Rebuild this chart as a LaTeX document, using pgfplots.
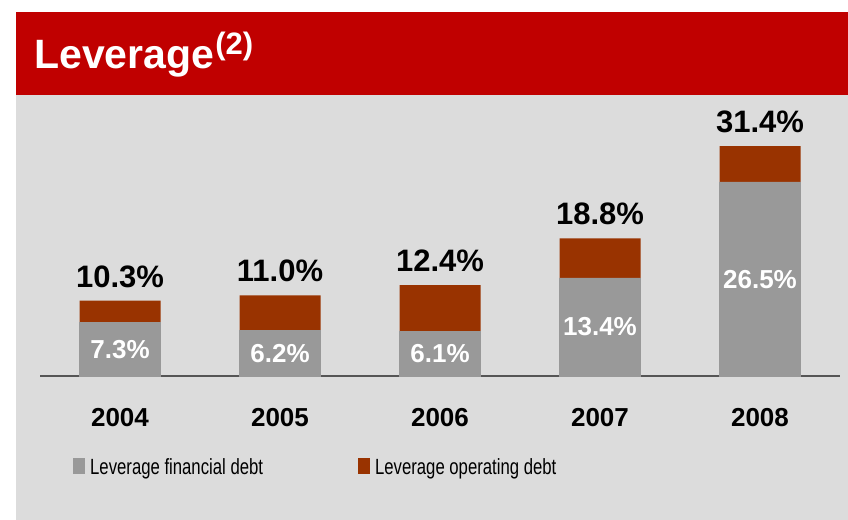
\documentclass[border=0pt]{standalone}
\usepackage{fontspec}
\setmainfont{Liberation Sans}
\usepackage{pgfplots}
\pgfplotsset{compat=1.18}
\usepackage{pgfplotstable}

\definecolor{bannerred}{RGB}{192,0,0}
\definecolor{panelgray}{RGB}{220,220,220}
\definecolor{fingray}{RGB}{153,153,153}
\definecolor{opred}{RGB}{153,51,0}
\definecolor{axisgray}{RGB}{85,85,85}

% leverage: total and financial debt part (operating = total - fin)
\pgfplotstableread{
x total fin
0 10.3 7.3
1 11.0 6.2
2 12.4 6.1
3 18.8 13.4
4 31.4 26.5
}\lev

\begin{document}
\begin{tikzpicture}
\fill[white] (0,0) rectangle (848bp,520bp);
\fill[panelgray] (16bp,0) rectangle (848bp,508bp);
\fill[bannerred] (16bp,425bp) rectangle (848bp,508bp);
\node[anchor=base west, inner sep=0pt, text=white,
      font=\fontsize{41bp}{48bp}\selectfont\bfseries] at (34bp,451bp)
  {Leverage\kern1bp\raisebox{14bp}{\fontsize{31bp}{34bp}\selectfont(2)}};

\begin{axis}[
  at={(40bp,144bp)}, anchor=south west,
  scale only axis, width=800bp, height=278.2bp,
  xmin=-0.5, xmax=4.5, ymin=0, ymax=38,
  axis x line*=bottom, axis y line=none,
  x axis line style={axisgray, line width=1.5bp},
  xtick={0,1,2,3,4}, xticklabels={2004,2005,2006,2007,2008},
  major tick length=0pt,
  xticklabel style={font=\fontsize{26bp}{30bp}\selectfont\bfseries, inner sep=0pt, yshift=-32bp},
  clip=false,
  /pgf/number format/assume math mode=true,
  legend image code/.code={\path[draw=none, fill=none] (0bp,0bp) rectangle (12bp,16bp);
    \fill[#1, draw=none, overlay] (0bp,-7bp) rectangle (12bp,9bp);},
  legend columns=2,
  legend style={at={(axis description cs:0.04125,-0.3138)}, anchor=west,
    draw=none, fill=none, inner sep=0pt,
    nodes={inner sep=0pt, font=\fontsize{22bp}{26bp}\selectfont},
    /tikz/every odd column/.append style={column sep=5bp},
    /tikz/every even column/.append style={column sep=95bp}},
  legend cell align=left,
]
\addplot[ybar, bar width=81bp, bar shift=0pt, fill=opred, draw=none, forget plot]
  table[x=x, y=total] {\lev};
\addplot[ybar, bar width=81bp, bar shift=0pt, fill=fingray, draw=fingray, line width=0.5bp, forget plot]
  table[x=x, y=fin] {\lev};
% total labels above the bars
\addplot[draw=none, mark=none, forget plot, point meta=explicit,
  nodes near coords={\pgfmathprintnumber[fixed,fixed zerofill,precision=1]{\pgfplotspointmeta}\%},
  nodes near coords style={font=\fontsize{31bp}{36bp}\selectfont\bfseries, text=black, inner sep=0pt, yshift=13bp}]
  table[x=x, y=total, meta=total] {\lev};
% financial debt labels inside the gray part
\addplot[draw=none, mark=none, forget plot, point meta=explicit,
  nodes near coords={\pgfmathprintnumber[fixed,fixed zerofill,precision=1]{\pgfplotspointmeta}\%},
  nodes near coords style={font=\fontsize{26bp}{30bp}\selectfont\bfseries, text=white, inner sep=0pt, yshift=-9.5bp}]
  table[x=x, y expr=\thisrow{fin}/2, meta=fin] {\lev};

\addlegendimage{fill=fingray}
\addlegendentry{\scalebox{0.76}[1]{Leverage financial debt}}
\addlegendimage{fill=opred}
\addlegendentry{\scalebox{0.76}[1]{Leverage operating debt}}
\end{axis}
\pgfresetboundingbox
\useasboundingbox (0,0) rectangle (848bp,520bp);
\end{tikzpicture}
\end{document}
